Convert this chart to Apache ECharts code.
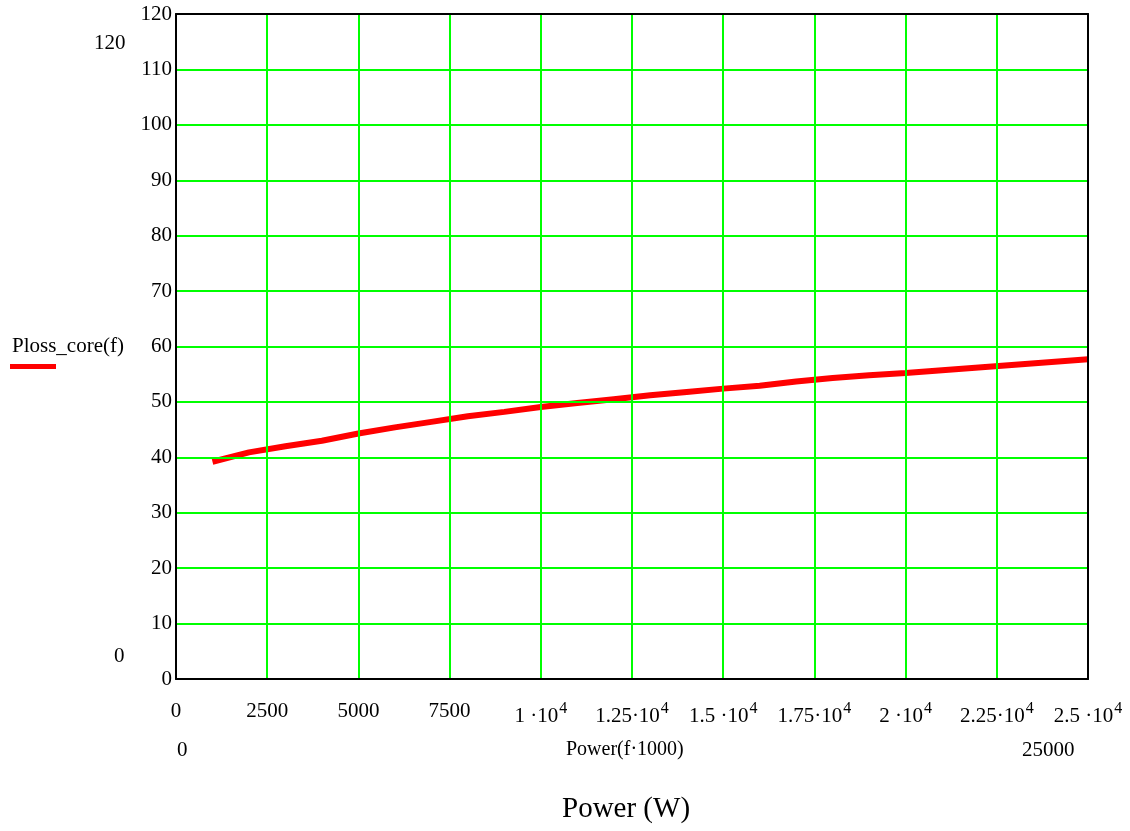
<!DOCTYPE html>
<html>
<head>
<meta charset="utf-8">
<title>Ploss_core(f)</title>
<script src="https://cdn.jsdelivr.net/npm/echarts@6/dist/echarts.min.js"></script>
<style>
  html, body { margin: 0; padding: 0; background: #ffffff; }
  #chart { width: 1130px; height: 831px; }
</style>
</head>
<body>
<div id="chart"></div>
<script>
// Power axis samples (W) = f * 1000
const powerW = [1000, 2000, 3000, 4000, 5000, 6000, 7000, 8000, 9000, 10000,
  11000, 12000, 13000, 14000, 15000, 16000, 17000, 18000, 19000, 20000,
  21000, 22000, 23000, 24000, 25000];
// Core loss values at each power
const plossCore = [39.2, 40.9, 42.0, 43.0, 44.3, 45.4, 46.4, 47.4, 48.2, 49.1,
  49.8, 50.5, 51.2, 51.8, 52.4, 52.9, 53.7, 54.3, 54.8, 55.2,
  55.7, 56.2, 56.7, 57.2, 57.7];
// Tick label text for the power axis (mantissa, exponent)
const xTickLabels = {
  0: ['0', ''], 2500: ['2500', ''], 5000: ['5000', ''], 7500: ['7500', ''],
  10000: ['1 \u00b710', '4'], 12500: ['1.25\u00b710', '4'],
  15000: ['1.5 \u00b710', '4'], 17500: ['1.75\u00b710', '4'],
  20000: ['2 \u00b710', '4'], 22500: ['2.25\u00b710', '4'],
  25000: ['2.5 \u00b710', '4']
};

const serif = '"Liberation Serif", "DejaVu Serif", serif';
const chart = echarts.init(document.getElementById('chart'), null, { renderer: 'canvas' });

const seriesData = powerW.map((p, i) => [p, plossCore[i]]);

chart.setOption({
  backgroundColor: '#ffffff',
  animation: false,
  grid: { left: 176, right: 42, top: 14, bottom: 152 },
  xAxis: [{
    type: 'value', min: 0, max: 25000, interval: 2500,
    axisLine: { show: true, onZero: false, lineStyle: { color: '#000000', width: 2 } },
    axisTick: { show: false },
    splitLine: { show: true, lineStyle: { color: '#00ff00', width: 2 } },
    axisLabel: {
      margin: 22,
      fontFamily: serif, fontSize: 21, color: '#000000',
      formatter: function (v) {
        const t = xTickLabels[v];
        if (!t) return '';
        return t[1] ? '{b|' + t[0] + '}{sup|' + t[1] + '}' : '{b|' + t[0] + '}';
      },
      rich: {
        b: { fontFamily: serif, fontSize: 21, color: '#000000', verticalAlign: 'bottom' },
        sup: { fontFamily: serif, fontSize: 16, color: '#000000', verticalAlign: 'bottom', padding: [0, 0, 10, 1] }
      }
    },
    z: 10
  }, {
    type: 'value', position: 'top', min: 0, max: 25000,
    axisLine: { show: true, onZero: false, lineStyle: { color: '#000000', width: 2 } },
    axisTick: { show: false }, axisLabel: { show: false }, splitLine: { show: false },
    z: 10
  }],
  yAxis: [{
    type: 'value', min: 0, max: 120, interval: 10,
    axisLine: { show: true, onZero: false, lineStyle: { color: '#000000', width: 2 } },
    axisTick: { show: false },
    splitLine: { show: true, lineStyle: { color: '#00ff00', width: 2 } },
    axisLabel: { margin: 4, fontFamily: serif, fontSize: 21, color: '#000000' },
    z: 10
  }, {
    type: 'value', position: 'right', min: 0, max: 120,
    axisLine: { show: true, onZero: false, lineStyle: { color: '#000000', width: 2 } },
    axisTick: { show: false }, axisLabel: { show: false }, splitLine: { show: false },
    z: 10
  }],
  series: [{
    type: 'line',
    data: seriesData,
    showSymbol: false,
    smooth: false,
    lineStyle: { color: '#ff0000', width: 6 },
    z: 5
  }],
  graphic: [
    { type: 'text', left: 94, top: 33, style: { text: '120', font: '21px ' + serif, fill: '#000' } },
    { type: 'text', left: 114, top: 646, style: { text: '0', font: '21px ' + serif, fill: '#000' } },
    { type: 'text', left: 177, top: 740, style: { text: '0', font: '21px ' + serif, fill: '#000' } },
    { type: 'text', left: 1022, top: 740, style: { text: '25000', font: '21px ' + serif, fill: '#000' } },
    { type: 'text', left: 566, top: 740, style: { text: 'Power(f\u00b71000)', font: '20px ' + serif, fill: '#000' } },
    { type: 'text', left: 12, top: 336, style: { text: 'Ploss_core(f)', font: '21px ' + serif, fill: '#000' } },
    { type: 'rect', shape: { x: 10, y: 364, width: 46, height: 5 }, style: { fill: '#ff0000' } },
    { type: 'text', left: 562, top: 795, style: { text: 'Power (W)', font: '29px ' + serif, fill: '#000' } }
  ]
});
</script>
</body>
</html>
